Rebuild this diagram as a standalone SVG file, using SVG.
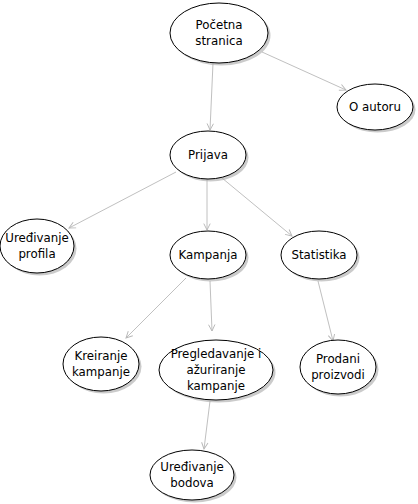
<svg xmlns="http://www.w3.org/2000/svg" width="418" height="504" viewBox="0 0 418 504">
  <defs>
    <marker id="arrow" viewBox="0 0 10 10" refX="9" refY="5" markerWidth="8" markerHeight="8" markerUnits="userSpaceOnUse" orient="auto">
      <path d="M1,1 L9,5 L1,9" fill="none" stroke="#b8b8b8" stroke-width="1.2"/>
    </marker>
  </defs>
  <style>
    .edge { stroke: #c0c0c0; stroke-width: 1; fill: none; marker-end: url(#arrow); }
    .node { fill: #ffffff; stroke: #000000; stroke-width: 1; }
    .shadow { fill: #a8a8a8; opacity: 0.6; }
    .label { font-family: "DejaVu Sans", "Liberation Sans", sans-serif; font-size: 11.8px; fill: #000000; text-anchor: middle; }
  </style>
  <rect width="418" height="504" fill="#ffffff"/>

  <g id="connectors">
    <line class="edge" x1="213" y1="63" x2="210" y2="130"/>
    <line class="edge" x1="262" y1="52" x2="346" y2="90"/>
    <line class="edge" x1="176" y1="172" x2="69" y2="228"/>
    <line class="edge" x1="207" y1="179" x2="207" y2="230"/>
    <line class="edge" x1="222" y1="178" x2="292" y2="236"/>
    <line class="edge" x1="186" y1="278" x2="126" y2="338"/>
    <line class="edge" x1="210" y1="281" x2="212" y2="331"/>
    <line class="edge" x1="318" y1="281" x2="333" y2="341"/>
    <line class="edge" x1="210" y1="401" x2="204" y2="449"/>
  </g>

  <g id="pocetna-stranica">
    <ellipse class="shadow" cx="221.5" cy="35.5" rx="49" ry="30"/>
    <ellipse class="node" cx="219" cy="33" rx="49" ry="30"/>
    <text class="label" x="219" y="29">Početna</text>
    <text class="label" x="219" y="45">stranica</text>
  </g>

  <g id="o-autoru">
    <ellipse class="shadow" cx="377.5" cy="109.5" rx="38" ry="23"/>
    <ellipse class="node" cx="375" cy="107" rx="38" ry="23"/>
    <text class="label" x="375" y="111">O autoru</text>
  </g>

  <g id="prijava">
    <ellipse class="shadow" cx="210.5" cy="157.5" rx="38" ry="24"/>
    <ellipse class="node" cx="208" cy="155" rx="38" ry="24"/>
    <text class="label" x="208" y="159">Prijava</text>
  </g>

  <g id="uredivanje-profila">
    <ellipse class="shadow" cx="39.5" cy="248.5" rx="37" ry="27"/>
    <ellipse class="node" cx="37" cy="246" rx="37" ry="27"/>
    <text class="label" x="37" y="242">Uređivanje</text>
    <text class="label" x="37" y="258">profila</text>
  </g>

  <g id="kampanja">
    <ellipse class="shadow" cx="210.5" cy="257.5" rx="38" ry="24"/>
    <ellipse class="node" cx="208" cy="255" rx="38" ry="24"/>
    <text class="label" x="208" y="259">Kampanja</text>
  </g>

  <g id="statistika">
    <ellipse class="shadow" cx="321.5" cy="257.5" rx="38" ry="24"/>
    <ellipse class="node" cx="319" cy="255" rx="38" ry="24"/>
    <text class="label" x="319" y="259">Statistika</text>
  </g>

  <g id="kreiranje-kampanje">
    <ellipse class="shadow" cx="103.5" cy="366.5" rx="38" ry="27"/>
    <ellipse class="node" cx="101" cy="364" rx="38" ry="27"/>
    <text class="label" x="101" y="360">Kreiranje</text>
    <text class="label" x="101" y="376">kampanje</text>
  </g>

  <g id="pregledavanje-azuriranje">
    <ellipse class="shadow" cx="218.5" cy="372.5" rx="57" ry="30"/>
    <ellipse class="node" cx="216" cy="370" rx="57" ry="30"/>
    <text class="label" x="216" y="358">Pregledavanje i</text>
    <text class="label" x="216" y="374">ažuriranje</text>
    <text class="label" x="216" y="390">kampanje</text>
  </g>

  <g id="prodani-proizvodi">
    <ellipse class="shadow" cx="340.5" cy="369.5" rx="38" ry="27"/>
    <ellipse class="node" cx="338" cy="367" rx="38" ry="27"/>
    <text class="label" x="338" y="363">Prodani</text>
    <text class="label" x="338" y="379">proizvodi</text>
  </g>

  <g id="uredivanje-bodova">
    <ellipse class="shadow" cx="194.5" cy="477.5" rx="42" ry="25"/>
    <ellipse class="node" cx="192" cy="475" rx="42" ry="25"/>
    <text class="label" x="192" y="471">Uređivanje</text>
    <text class="label" x="192" y="487">bodova</text>
  </g>
</svg>
